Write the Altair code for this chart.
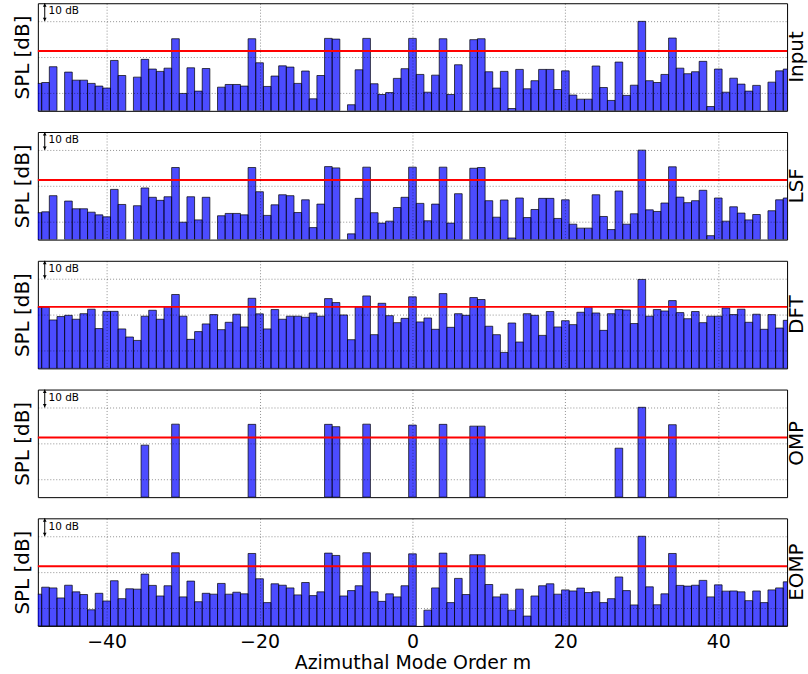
import altair as alt
import pandas as pd

# ---------------- data ----------------
M = list(range(-49, 50))

INPUT = [15.3, 15.8, 24.6, None, 21.6, 17.1, 17.1, 15.3, 13.8, 12.7,
         28.1, 19.7, None, 18.8, 28.7, 23.3, 22.0, 23.8, 40.2, 9.7,
         24.0, 11.0, 23.6, None, 13.2, 14.7, 14.7, 13.8, 40.2, 26.8,
         13.6, 19.4, 25.1, 24.4, 15.3, 22.2, 6.7, 19.7, 40.4, 40.0,
         None, 3.4, 22.9, 40.4, 15.1, 9.1, 10.2, 18.1, 23.5,
         40.4, 20.3, 10.4, 19.9, 40.2, 9.1, 25.7, None, 39.7, 40.2,
         21.8, 12.7, 22.0, 1.3, 23.1, 12.3, 16.8, 23.1, 23.1, 11.9,
         22.3, 8.8, 6.5, 6.5, 25.0, 13.0, 5.8, 27.2, 8.6, 14.3,
         49.9, 16.8, 15.8, 20.3, 40.6, 23.8, 20.7, 21.8, 27.6, 2.4,
         23.3, 10.4, 18.2, 14.9, 11.0, 14.2, None, 16.0, 22.3, 23.3]

LSF = [15.0, 15.5, 24.5, None, 21.5, 17.2, 17.2, 15.3, 13.8, 12.7,
       28.0, 19.6, None, 18.9, 28.8, 23.6, 21.9, 23.9, 40.2, 9.7,
       23.9, 11.0, 23.6, None, 13.3, 14.6, 14.6, 13.8, 40.2, 26.7,
       13.5, 19.4, 25.0, 24.5, 15.1, 22.2, 6.7, 19.8, 40.7, 40.0,
       None, 3.2, 23.0, 40.4, 15.0, 9.2, 10.3, 17.9, 23.6,
       40.4, 20.2, 10.5, 19.8, 40.4, 9.2, 25.6, None, 39.8, 40.2,
       21.7, 12.5, 22.1, 0.9, 23.2, 12.3, 16.8, 23.0, 23.0, 11.8,
       22.2, 8.6, 6.4, 6.4, 25.0, 12.9, 5.6, 27.1, 8.6, 14.4,
       49.9, 16.6, 15.7, 20.4, 40.6, 23.7, 20.6, 21.7, 27.5, 2.2,
       23.2, 10.3, 18.3, 14.8, 11.0, 14.0, None, 16.1, 22.2, 23.2]

DFT = [34.1, 34.1, 27.0, 28.9, 29.6, 27.4, 30.5, 33.0, 22.2, 31.8,
       31.8, 22.0, 17.5, 15.6, 29.1, 32.4, 27.4, 34.5, 41.2, 29.1,
       16.2, 20.5, 24.8, 30.0, 21.6, 25.7, 30.2, 23.1, 39.1, 30.4,
       22.0, 32.8, 27.4, 29.1, 29.1, 28.5, 30.9, 29.1, 38.9, 36.7,
       29.8, 16.0, 34.3, 40.4, 18.8, 36.3, 29.4, 25.5, 27.9,
       39.9, 25.9, 28.1, 21.8, 41.7, 22.9, 30.5, 29.6, 39.5, 38.4,
       23.5, 18.8, 8.9, 25.3, 14.7, 30.5, 29.6, 18.4, 31.7, 23.1,
       26.6, 24.4, 31.3, 34.1, 30.9, 21.2, 30.5, 32.8, 32.6, 25.0,
       49.6, 29.1, 32.8, 32.0, 37.8, 31.1, 27.7, 31.7, 25.5, 29.1,
       29.1, 33.7, 30.0, 33.0, 25.7, 30.2, 21.8, 30.0, 22.5, 26.8]

OMP_M = [-35, -31, -21, -11, -10, -6, 0, 4, 8, 9, 27, 30, 34]
OMP_V = [29.0, 40.7, 40.6, 40.6, 39.3, 40.7, 40.2, 40.6, 39.6, 39.6, 27.3, 50.1, 40.4]

EOMP = [17.7, 21.6, 21.2, 15.6, 22.7, 19.0, 17.5, 9.0, 18.2, 13.9,
        25.2, 15.2, 20.7, 20.5, 28.9, 22.6, 16.7, 22.4, 40.8, 16.2,
        25.0, 13.5, 18.2, 17.7, 23.7, 17.7, 18.8, 17.9, 40.4, 26.3,
        13.0, 23.5, 22.7, 21.2, 17.3, 24.2, 16.9, 19.0, 40.6, 39.3,
        16.7, 19.7, 22.4, 40.8, 19.0, 13.7, 17.9, 16.2, 22.4,
        40.2, None, 8.8, 21.2, 40.6, 13.0, 26.5, 17.5, 39.7, 39.7,
        23.1, 16.2, 17.7, 8.8, 20.5, 5.5, 16.7, 22.4, 23.5, 17.7,
        20.1, 19.5, 21.1, 18.6, 19.0, 13.0, 15.2, 27.3, 19.7, 11.7,
        50.0, 21.8, 11.8, 17.9, 40.4, 22.6, 22.2, 22.7, 25.4, 16.2,
        22.9, 19.4, 19.5, 19.0, 14.1, 19.5, 13.0, 20.1, 21.2, 24.6]

PANELS = ["Input", "LSF", "DFT", "OMP", "EOMP"]
THRESH = [33.4, 33.3, 34.3, 33.3, 33.3]

XTICKS = [-40, -20, 0, 20, 40]
YGRID = [10, 20, 30, 40, 50]
X_DOMAIN = [-49, 49]
Y_DOMAIN = [0, 60]

# "10 dB" scale marker (data units)
ARROW_X = [-48.1]
ARROW_LO = [50.0]
ARROW_HI = [60.0]
HEAD_Y = [59.0, 51.0]
HEAD_SHAPE = ["triangle-up", "triangle-down"]
LABEL_X = [-47.6]
LABEL_Y = [55.4]
LABEL_TEXT = ["10 dB"]

FONT = "DejaVu Sans"
W, H = 752, 108

xscale = alt.Scale(domain=X_DOMAIN, nice=False, zero=False)
yscale = alt.Scale(domain=Y_DOMAIN, nice=False, zero=False)


def panel(name, ms, vals, thr, bottom):
    df = pd.DataFrame({"m": ms, "spl": vals}).dropna()
    if bottom:
        xaxis = alt.Axis(values=XTICKS, grid=True, labels=True, ticks=False,
                         domain=False, title="Azimuthal Mode Order m",
                         labelFontSize=19, titleFontSize=19, labelPadding=7,
                         titlePadding=2, titleFontWeight="normal",
                         labelColor="black", titleColor="black", zindex=1,
                         format="d")
    else:
        xaxis = alt.Axis(values=XTICKS, grid=True, labels=False, ticks=False,
                         domain=False, title=None, minExtent=0, maxExtent=0,
                         zindex=1)
    yaxis = alt.Axis(values=YGRID, grid=True, labels=False, ticks=False,
                     domain=False, title="SPL [dB]", titleFontSize=20,
                     titlePadding=5, titleFontWeight="normal",
                     titleColor="black", minExtent=0, zindex=1)

    bars = alt.Chart(df).transform_calculate(
        lo="datum.m - 0.5", hi="datum.m + 0.5"
    ).mark_bar(clip=True, fill="#0000ff", fillOpacity=0.7, stroke="#000000",
               strokeOpacity=0.7, strokeWidth=1).encode(
        x=alt.X("lo:Q", scale=xscale, axis=xaxis),
        x2="hi:Q",
        y=alt.Y("spl:Q", scale=yscale, axis=yaxis),
        y2=alt.datum(0),
    )

    thr_line = alt.Chart(pd.DataFrame({"thr": [thr]})).mark_rule(
        color="#ff0000", strokeWidth=2
    ).encode(y=alt.Y("thr:Q", scale=yscale))

    arrow = alt.Chart(pd.DataFrame({"ax": ARROW_X, "lo": ARROW_LO, "hi": ARROW_HI})).mark_rule(
        color="black", strokeWidth=1
    ).encode(
        x=alt.X("ax:Q", scale=xscale),
        y=alt.Y("lo:Q", scale=yscale),
        y2="hi:Q",
    )

    heads = alt.Chart(pd.DataFrame({"ax": ARROW_X * 2, "hy": HEAD_Y, "shape": HEAD_SHAPE})).mark_point(
        filled=True, color="black", size=14, opacity=1
    ).encode(
        x=alt.X("ax:Q", scale=xscale),
        y=alt.Y("hy:Q", scale=yscale),
        shape=alt.Shape("shape:N", scale=None, legend=None),
    )

    note = alt.Chart(pd.DataFrame({"tx": LABEL_X, "ty": LABEL_Y, "t": LABEL_TEXT})).mark_text(
        align="left", baseline="middle", fontSize=10.5, font=FONT, color="black"
    ).encode(
        x=alt.X("tx:Q", scale=xscale),
        y=alt.Y("ty:Q", scale=yscale),
        text="t:N",
    )

    side = alt.Chart(pd.DataFrame({"name": [name]})).mark_text(
        angle=270, align="center", baseline="middle", fontSize=20, font=FONT,
        color="black"
    ).encode(
        x=alt.value(W + 10),
        y=alt.value(H / 2),
        text="name:N",
    )

    return alt.layer(bars, thr_line, arrow, heads, note, side).properties(width=W, height=H)


series = [(M, INPUT), (M, LSF), (M, DFT), (OMP_M, OMP_V), (M, EOMP)]
charts = []
for i, (name, (ms, vals), thr) in enumerate(zip(PANELS, series, THRESH)):
    charts.append(panel(name, ms, vals, thr, i == len(PANELS) - 1))

chart = alt.vconcat(*charts, spacing=19.25).properties(
    padding={"left": 12, "top": 1, "right": 0, "bottom": 0},
    background="white",
).configure_view(
    stroke="black", strokeWidth=1
).configure_axis(
    labelFont=FONT, titleFont=FONT,
    gridColor="#000000", gridOpacity=0.55, gridDash=[1, 2], gridWidth=0.8,
)

chart.save("out.html", embed_options={"renderer": "svg", "actions": False})
